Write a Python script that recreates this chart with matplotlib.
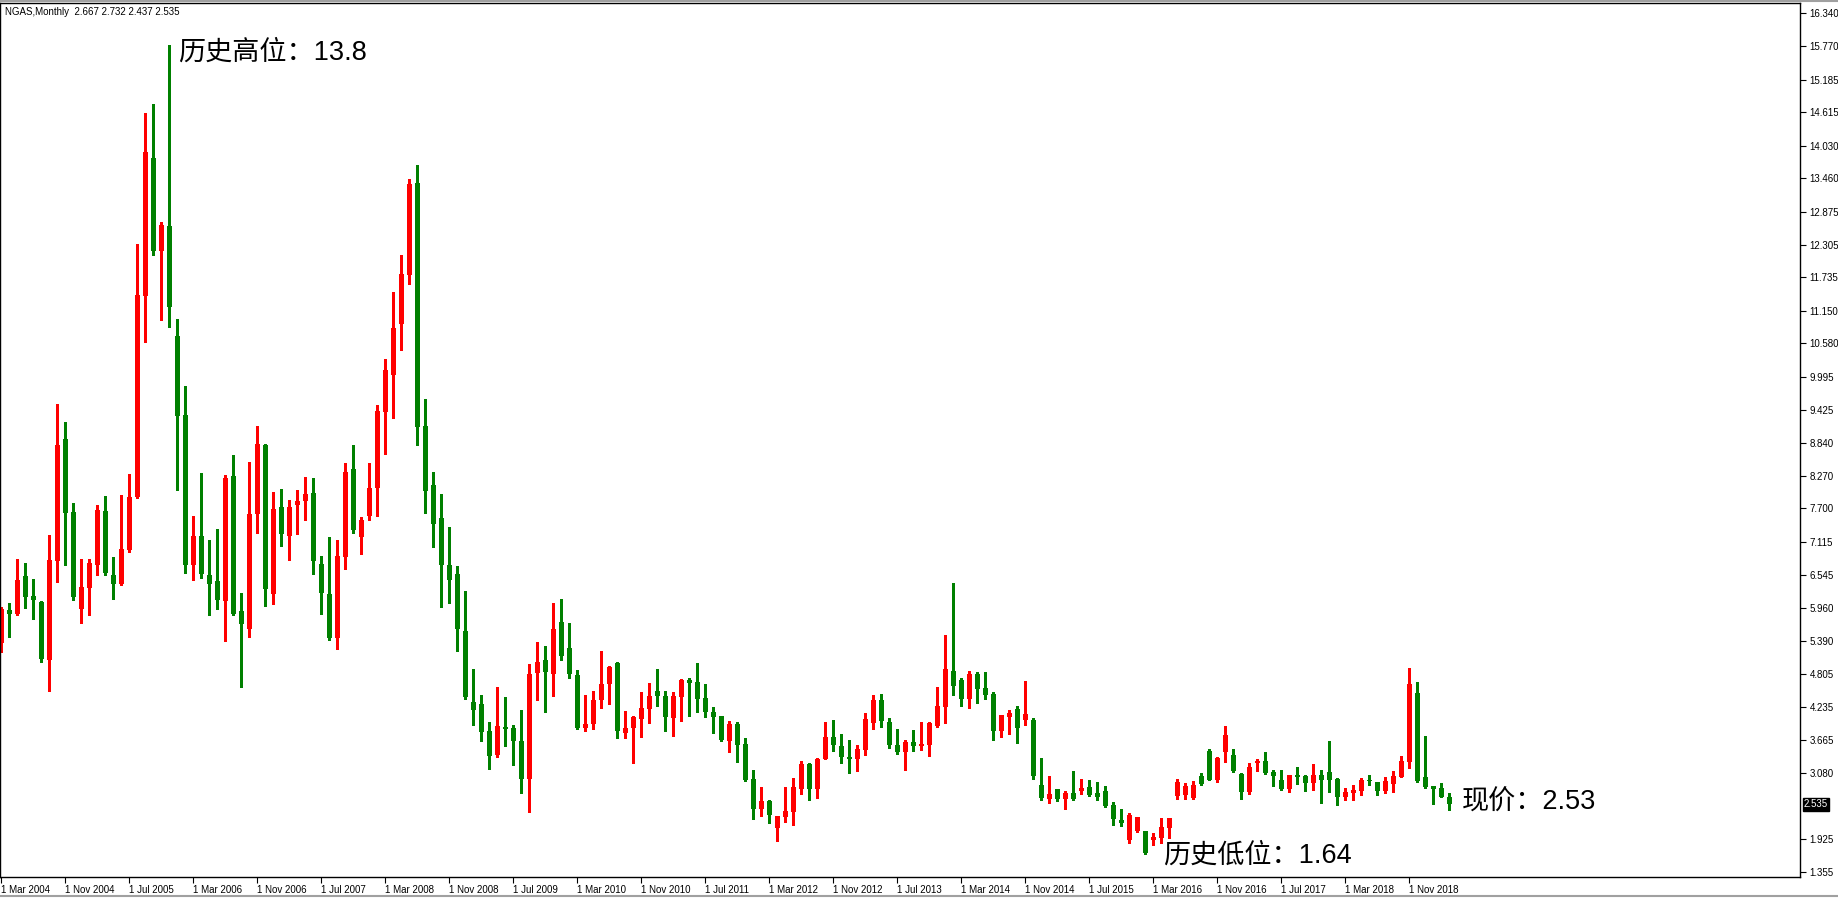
import numpy as np
import pandas as pd
import matplotlib
matplotlib.use("Agg")
from matplotlib import pyplot as plt
from matplotlib.lines import Line2D
import matplotlib.transforms as mtransforms

symbol = "NGAS,Monthly"
months = pd.date_range("2004-03-01", periods=182, freq="MS")

open_ = [5.35, 5.93, 5.86, 6.52, 6.17, 6.07, 5.05, 6.78, 8.91, 7.64,
         5.94, 6.31, 6.71, 7.65, 6.54, 6.38, 6.97, 7.90, 11.41, 13.81,
         12.19, 12.63, 10.71, 9.33, 6.71, 7.22, 6.54, 6.43, 6.08, 8.27,
         5.91, 5.60, 7.60, 8.81, 6.20, 7.72, 7.22, 7.76, 7.83, 7.97,
         6.73, 6.20, 5.44, 6.85, 8.39, 7.20, 7.57, 8.06, 9.38, 10.03,
         10.92, 11.77, 13.38, 9.14, 8.11, 7.53, 6.71, 6.55, 5.56, 4.32,
         4.29, 3.81, 3.40, 3.88, 3.87, 3.64, 2.98, 4.83, 5.05, 4.81,
         5.72, 5.26, 4.79, 3.87, 3.94, 4.36, 4.64, 5.00, 3.78, 3.87,
         4.02, 4.20, 4.51, 4.42, 4.04, 4.41, 4.71, 4.67, 4.39, 4.15,
         4.08, 3.64, 3.94, 3.59, 2.98, 2.45, 2.59, 2.12, 2.31, 2.40,
         2.80, 3.24, 2.80, 3.33, 3.71, 3.55, 3.36, 3.33, 3.48, 3.95,
         4.36, 3.97, 3.57, 3.45, 3.62, 3.55, 3.57, 3.90, 4.23, 4.86,
         4.71, 4.37, 4.81, 4.57, 4.46, 3.81, 4.06, 4.20, 4.01, 4.01,
         2.87, 2.63, 2.80, 2.63, 2.73, 2.77, 2.84, 2.73, 2.77, 2.52,
         2.26, 1.91, 2.07, 2.07, 1.91, 1.95, 2.12, 2.68, 2.70, 2.65,
         3.03, 3.47, 2.96, 3.45, 3.40, 3.06, 2.75, 3.26, 3.29, 3.10,
         2.96, 2.80, 3.05, 3.03, 2.91, 3.05, 3.10, 2.98, 2.66, 2.73,
         2.77, 2.96, 2.92, 2.77, 2.89, 3.01, 3.27, 4.48, 3.01, 2.86,
         2.82, 2.667]

high = [5.98, 6.05, 6.82, 6.75, 6.47, 6.08, 7.24, 9.52, 9.21, 7.79,
        6.82, 6.82, 7.76, 7.92, 6.85, 7.93, 8.30, 12.31, 14.60, 14.76,
        12.69, 15.79, 11.00, 9.84, 7.57, 8.32, 7.15, 7.34, 8.28, 8.63,
        6.22, 8.51, 9.14, 8.83, 7.99, 8.04, 7.85, 8.02, 8.25, 8.23,
        6.87, 7.20, 7.15, 8.49, 8.80, 7.55, 8.49, 9.50, 10.31, 11.48,
        12.12, 13.45, 13.69, 9.61, 8.33, 7.95, 7.38, 6.69, 6.26, 4.90,
        4.44, 3.97, 4.58, 4.41, 3.92, 4.18, 4.98, 5.37, 5.30, 6.05,
        6.12, 5.70, 4.88, 4.44, 4.51, 5.21, 4.95, 5.02, 4.16, 4.08,
        4.50, 4.66, 4.90, 4.51, 4.50, 4.72, 4.74, 5.00, 4.64, 4.23,
        4.08, 3.99, 3.97, 3.69, 3.13, 2.84, 2.61, 2.33, 2.84, 2.99,
        3.29, 3.26, 3.34, 3.97, 4.01, 3.76, 3.66, 3.57, 4.13, 4.44,
        4.46, 4.04, 3.85, 3.66, 3.83, 3.97, 3.97, 4.58, 5.49, 6.40,
        4.74, 4.86, 4.84, 4.84, 4.50, 4.09, 4.18, 4.25, 4.69, 4.04,
        3.34, 3.03, 2.80, 2.77, 3.11, 2.98, 2.96, 2.92, 2.86, 2.57,
        2.45, 2.38, 2.31, 2.07, 2.04, 2.30, 2.30, 2.98, 2.91, 2.94,
        3.08, 3.50, 3.36, 3.90, 3.50, 3.08, 3.26, 3.33, 3.45, 3.13,
        3.13, 3.05, 3.19, 3.05, 3.24, 3.13, 3.64, 2.99, 2.82, 2.87,
        2.99, 3.05, 2.92, 3.01, 3.11, 3.38, 4.92, 4.67, 3.73, 2.86,
        2.91, 2.732]

low = [5.19, 5.46, 5.84, 5.96, 5.77, 5.02, 4.51, 6.42, 6.71, 6.10,
       5.70, 5.84, 6.54, 6.54, 6.12, 6.37, 6.94, 7.88, 10.60, 12.12,
       10.99, 10.86, 8.02, 6.57, 6.45, 6.48, 5.84, 5.94, 5.39, 5.84,
       4.58, 5.46, 7.27, 5.99, 6.03, 7.04, 6.80, 7.25, 7.50, 6.55,
       5.86, 5.41, 5.25, 6.64, 7.27, 6.90, 7.50, 7.57, 8.65, 9.28,
       10.46, 11.62, 8.80, 7.62, 7.03, 5.98, 6.05, 5.21, 4.37, 3.92,
       3.64, 3.15, 3.36, 3.55, 3.22, 2.73, 2.40, 4.36, 4.15, 4.42,
       5.05, 4.74, 3.85, 3.81, 3.85, 4.22, 4.29, 3.69, 3.69, 3.26,
       3.71, 3.95, 4.25, 3.81, 3.73, 3.99, 4.08, 4.15, 4.06, 3.78,
       3.64, 3.45, 3.27, 2.94, 2.28, 2.33, 2.21, 1.90, 2.22, 2.17,
       2.72, 2.61, 2.65, 3.33, 3.47, 3.26, 3.08, 3.11, 3.40, 3.85,
       3.88, 3.52, 3.41, 3.13, 3.47, 3.48, 3.38, 3.88, 3.95, 4.44,
       4.25, 4.22, 4.30, 4.37, 3.66, 3.71, 3.76, 3.60, 3.92, 2.98,
       2.61, 2.56, 2.59, 2.45, 2.61, 2.72, 2.68, 2.61, 2.49, 2.17,
       2.16, 1.86, 2.05, 1.67, 1.82, 1.86, 1.95, 2.63, 2.63, 2.63,
       2.87, 2.96, 2.92, 3.27, 3.10, 2.63, 2.72, 3.11, 3.06, 2.86,
       2.78, 2.75, 2.89, 2.77, 2.78, 2.56, 2.75, 2.52, 2.61, 2.61,
       2.70, 2.87, 2.70, 2.73, 2.75, 3.01, 3.17, 2.92, 2.82, 2.54,
       2.66, 2.437]

close = [5.94, 5.86, 6.45, 6.15, 6.10, 5.07, 6.80, 8.81, 7.62, 6.15,
         6.33, 6.75, 7.67, 6.57, 6.38, 6.99, 7.90, 11.42, 13.92, 12.19,
         12.64, 11.21, 9.31, 6.71, 7.22, 6.55, 6.38, 6.10, 8.23, 5.86,
         5.68, 7.60, 8.83, 6.29, 7.69, 7.25, 7.72, 7.83, 7.95, 6.78,
         6.22, 5.44, 6.87, 8.33, 7.32, 7.50, 8.06, 9.40, 10.12, 10.85,
         11.79, 13.36, 9.12, 8.01, 7.43, 6.71, 6.45, 5.60, 4.41, 4.18,
         3.80, 3.38, 3.90, 3.85, 3.64, 2.98, 4.81, 5.02, 4.84, 5.60,
         5.12, 4.81, 3.87, 3.94, 4.36, 4.64, 4.93, 3.81, 3.87, 4.06,
         4.22, 4.42, 4.42, 4.06, 4.42, 4.71, 4.66, 4.37, 4.15, 4.06,
         3.66, 3.94, 3.57, 2.96, 2.45, 2.59, 2.35, 2.33, 2.42, 2.84,
         3.24, 2.80, 3.33, 3.71, 3.57, 3.36, 3.33, 3.50, 4.02, 4.36,
         3.99, 3.57, 3.45, 3.62, 3.55, 3.59, 3.95, 4.25, 4.90, 4.60,
         4.37, 4.81, 4.55, 4.44, 3.81, 4.09, 4.13, 3.87, 4.11, 3.03,
         2.65, 2.72, 2.63, 2.73, 2.63, 2.82, 2.70, 2.66, 2.51, 2.28,
         2.21, 2.35, 2.31, 1.69, 1.97, 2.14, 2.30, 2.92, 2.86, 2.87,
         2.89, 2.96, 3.34, 3.74, 3.11, 2.75, 3.19, 3.29, 3.08, 3.03,
         2.80, 3.05, 3.01, 2.91, 3.05, 2.96, 2.96, 2.66, 2.75, 2.78,
         2.96, 2.94, 2.77, 2.94, 3.03, 3.29, 4.64, 2.94, 2.84, 2.80,
         2.66, 2.535]

x_labels = ["1 Mar 2004", "1 Nov 2004", "1 Jul 2005", "1 Mar 2006", "1 Nov 2006",
            "1 Jul 2007", "1 Mar 2008", "1 Nov 2008", "1 Jul 2009", "1 Mar 2010",
            "1 Nov 2010", "1 Jul 2011", "1 Mar 2012", "1 Nov 2012", "1 Jul 2013",
            "1 Mar 2014", "1 Nov 2014", "1 Jul 2015", "1 Mar 2016", "1 Nov 2016",
            "1 Jul 2017", "1 Mar 2018", "1 Nov 2018"]

y_ticks = [16.340, 15.770, 15.185, 14.615, 14.030, 13.460, 12.875, 12.305, 11.735,
           11.150, 10.580, 9.995, 9.425, 8.840, 8.270, 7.700, 7.115, 6.545, 5.960,
           5.390, 4.805, 4.235, 3.665, 3.080, 1.925, 1.355]

notes = ["历史高位：13.8", "历史低位：1.64", "现价：2.53"]

UP = "#ff0000"
DOWN = "#008000"

o = np.array(open_)
h = np.array(high)
l = np.array(low)
c = np.array(close)
x = np.arange(len(months))
colors = np.where(c >= o, UP, DOWN)

fig = plt.figure(figsize=(18.38, 8.98), dpi=100)
ax = fig.add_axes([0.0, 21 / 898, 1800 / 1838, 874 / 898])

ax.vlines(x, l, h, colors=colors, linewidth=1.0, antialiased=False)
body_h = np.maximum(np.abs(c - o), 0.02)
ax.bar(x, body_h, bottom=np.minimum(o, c), width=0.62, color=colors,
       linewidth=0, antialiased=False)

ax.set_xlim(-0.1625, 224.84)
ax.set_ylim(1.268, 16.52)

# time axis
tick_pos = [months.get_loc(pd.to_datetime(s, format="%d %b %Y")) for s in x_labels]
ax.set_xticks(tick_pos)
ax.set_xticklabels(x_labels, fontsize=7, family="Liberation Sans", ha="left")
shift = mtransforms.ScaledTranslation(2 / 100, 0, fig.dpi_scale_trans)
for lab in ax.get_xticklabels():
    lab.set_transform(lab.get_transform() + shift)
ax.tick_params(axis="x", direction="out", length=4, width=0.8, pad=2)

# price axis
ax.yaxis.tick_right()
ax.set_yticks(y_ticks)
ax.set_yticklabels([f"{v:.3f}" for v in y_ticks], fontsize=7, family="Liberation Sans")
ax.tick_params(axis="y", direction="out", length=4, width=0.8, pad=3)

for sp in ax.spines.values():
    sp.set_color("black")
    sp.set_linewidth(1.0)

# current price marker on the scale
trans = mtransforms.blended_transform_factory(ax.transAxes, ax.transData)
ax.annotate(f"{close[-1]:.3f}", xy=(1.0, close[-1]), xycoords=trans,
            xytext=(4, 0), textcoords="offset pixels", ha="left", va="center",
            fontsize=7, family="Liberation Sans", color="white",
            bbox=dict(boxstyle="square,pad=0.12", fc="black", ec="black"),
            annotation_clip=False)

# header
fig.text(5 / 1838, 1 - 12 / 898,
         f"{symbol}  {open_[-1]:.3f} {high[-1]:.3f} {low[-1]:.3f} {close[-1]:.3f}",
         fontsize=7, family="Liberation Sans", va="center", ha="left")

cjk = ["Liberation Sans", "Noto Sans CJK SC"]
ax.text(22.1, 15.65, notes[0], fontsize=19.5, family=cjk, va="center", ha="left")
ax.text(145.2, 1.64, notes[1], fontsize=19.5, family=cjk, va="center", ha="left")
ax.text(182.6, 2.57, notes[2], fontsize=19.5, family=cjk, va="center", ha="left")

# window borders
fig.add_artist(Line2D([0, 1], [1 - 1 / 898] * 2, color="#a0a0a0", linewidth=1.5))
fig.add_artist(Line2D([0, 1], [2 / 898] * 2, color="#a0a0a0", linewidth=1.5))

fig.savefig("out.png", dpi=100, facecolor="white")
